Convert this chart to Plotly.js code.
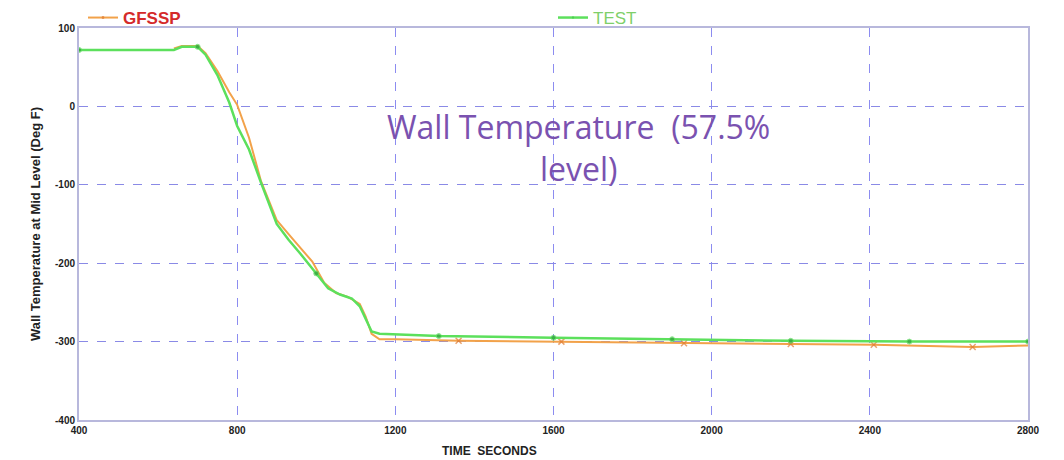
<!DOCTYPE html>
<html><head><meta charset="utf-8">
<script src="https://cdn.plot.ly/plotly-3.0.1.min.js"></script>
<style>html,body{margin:0;padding:0;background:#fff}#chart{width:1064px;height:460px}</style>
</head><body><div id="chart"></div>
<script>
const gfsspTime = [640, 660, 700, 720, 750, 780, 800, 830, 860, 900, 930, 960, 990, 1020, 1050, 1080, 1110, 1125, 1140, 1160, 1200, 1360, 1620, 1930, 2200, 2410, 2660, 2800];
const gfsspTemp = [74, 77, 77, 68, 45, 18, 2, -40, -95, -145, -163, -180, -198, -225, -238, -243, -252, -268, -290, -297, -297, -299, -300, -302, -303, -304, -307, -305];
const gfsspMarkerTimes = [1360, 1620, 1930, 2200, 2410, 2660];

const testTime = [400, 640, 660, 700, 720, 750, 780, 800, 830, 860, 900, 930, 960, 1000, 1030, 1060, 1090, 1110, 1125, 1140, 1160, 1200, 1310, 1600, 1900, 2200, 2500, 2800];
const testTemp = [72, 72, 76, 76, 66, 40, 5, -25, -55, -97, -150, -170, -188, -213, -232, -240, -245, -255, -270, -287, -290, -291, -293, -295, -297, -299, -300, -300];
const testMarkerTimes = [400, 700, 1000, 1310, 1600, 1900, 2200, 2500, 2800];

const xTicks = [400, 800, 1200, 1600, 2000, 2400, 2800];
const yTicks = [-400, -300, -200, -100, 0, 100];

const sizesFor = (times, marks, s) => times.map(t => marks.includes(t) ? s : 0);

const tickFont = {size: 10, color: '#222', family: 'Liberation Sans Narrow, Liberation Sans, sans-serif', weight: 'bold'};

const traces = [
  {x: gfsspTime, y: gfsspTemp, mode: 'lines+markers', name: '<span style="color:#d42a2a"><b>GFSSP</b></span>',
   line: {color: '#f2a24a', width: 2}, marker: {symbol: 'x-thin', color: '#e07a30', line: {color: '#e07a30', width: 1.5}, size: sizesFor(gfsspTime, gfsspMarkerTimes, 6)}},
  {x: testTime, y: testTemp, mode: 'lines+markers', name: '<span style="color:#7fcf6a">TEST</span>',
   line: {color: '#5ce05c', width: 2.5}, marker: {symbol: 'circle', color: '#2f9e3a', size: sizesFor(testTime, testMarkerTimes, 5)}}
];

const layout = {
  width: 1064, height: 460,
  margin: {l: 79, r: 36, t: 28, b: 40, autoexpand: false},
  paper_bgcolor: '#fff', plot_bgcolor: '#fff',
  font: {family: 'Liberation Sans, Arial, sans-serif'},
  showlegend: true,
  legend: {orientation: 'h', xref: 'container', yref: 'container', x: 0.078, xanchor: 'left', y: 1, yanchor: 'top',
    entrywidth: 425, entrywidthmode: 'pixels', itemwidth: 30,
    font: {family: 'Liberation Sans, sans-serif', size: 17}, bgcolor: 'rgba(0,0,0,0)', traceorder: 'normal'},
  xaxis: {range: [400, 2800], tickvals: xTicks, ticktext: xTicks.map(String), showgrid: true, gridcolor: '#8c8cf0', griddash: 'dash', gridwidth: 1.3,
    zeroline: false, showline: true, linecolor: '#b8b8dc', linewidth: 2, mirror: true, tickfont: tickFont, ticks: ''},
  yaxis: {range: [-400, 100], tickvals: yTicks, ticktext: yTicks.map(String), showgrid: true, gridcolor: '#8a8ae6', griddash: 'dash', gridwidth: 1,
    zeroline: false, showline: true, linecolor: '#b8b8dc', linewidth: 2, mirror: true, tickfont: tickFont, ticks: '',
    title: {text: '<b>Wall Temperature at Mid Level (Deg F)</b>', standoff: 11, font: {size: 13, color: '#222', family: 'Liberation Sans Narrow, Liberation Sans, sans-serif'}}},
  annotations: [
    {xref: 'paper', yref: 'paper', x: 0.526, y: 0.694, xanchor: 'center', yanchor: 'middle', showarrow: false,
     text: 'Wall Temperature  (57.5%<br>level)', align: 'center',
     font: {family: 'Open Sans, Noto Sans, sans-serif', size: 32, color: '#7a52b0'}},
    {xref: 'paper', yref: 'paper', x: 0.433, y: -0.055, xanchor: 'center', yanchor: 'top', showarrow: false,
     text: '<b>TIME  SECONDS</b>', font: {size: 12, color: '#222', family: 'Liberation Sans Narrow, Liberation Sans, sans-serif'}}
  ]
};

Plotly.newPlot('chart', traces, layout, {displayModeBar: false, staticPlot: true});
</script></body></html>
